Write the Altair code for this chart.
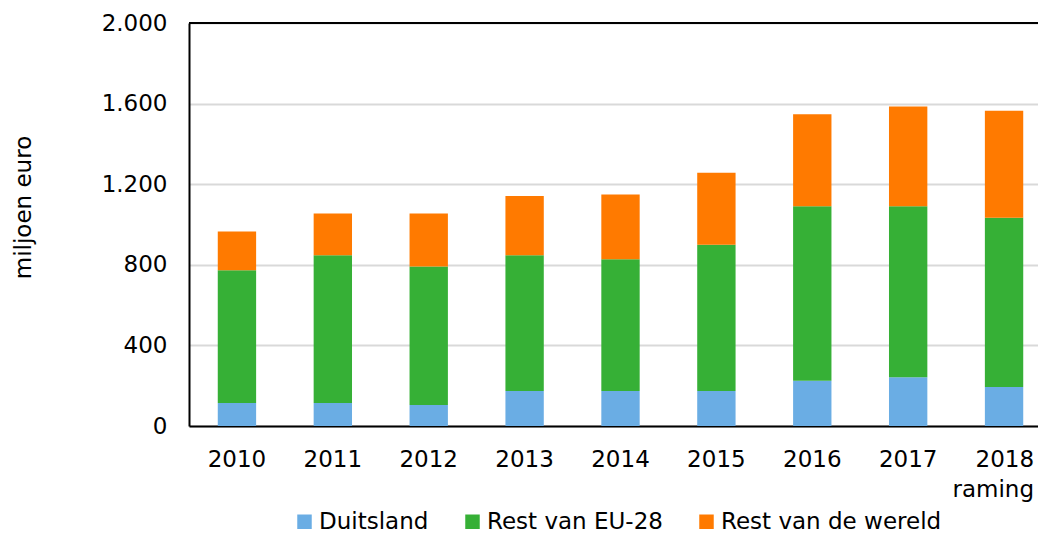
import altair as alt
import pandas as pd

years = ["2010", "2011", "2012", "2013", "2014", "2015", "2016", "2017", "2018"]
duitsland = [114, 114, 104, 174, 174, 174, 224, 242, 194]
rest_eu = [659, 733, 687, 673, 654, 725, 867, 849, 839]
rest_wereld = [192, 208, 264, 294, 321, 358, 456, 494, 532]
series = ["Duitsland", "Rest van EU-28", "Rest van de wereld"]
colors = ["#6AADE4", "#36B036", "#FF7A00"]
y_ticks = [0, 400, 800, 1200, 1600, 2000]

rows = []
for i, y in enumerate(years):
    for k, (s, vals) in enumerate(zip(series, [duitsland, rest_eu, rest_wereld])):
        rows.append({"jaar": y, "reeks": s, "waarde": vals[i], "volgorde": k})
df = pd.DataFrame(rows)

FONT = "DejaVu Sans"
FS = 23
last = years[-1]

bars = alt.Chart(df).mark_bar().encode(
    x=alt.X("jaar:N", sort=years,
            scale=alt.Scale(paddingInner=0.6, paddingOuter=0.3),
            axis=alt.Axis(title=None, labelAngle=0, ticks=False, domainColor="black",
                          domainWidth=2, labelPadding=22, labelLineHeight=30,
                          labelAlign={"condition": {"test": f"datum.value == '{last}'", "value": "right"},
                                      "value": "center"},
                          labelOffset={"condition": {"test": f"datum.value == '{last}'", "value": 30},
                                       "value": 0},
                          labelExpr=f"datum.value == '{last}' ? ['{last}', 'raming'] : datum.value")),
    y=alt.Y("waarde:Q", stack="zero",
            scale=alt.Scale(domain=[0, 2000], nice=False),
            axis=alt.Axis(title="miljoen euro", values=y_ticks, ticks=False,
                          domainColor="black", domainWidth=2, gridColor="#D9D9D9",
                          gridWidth=2, labelPadding=22, titlePadding=66, titleY=184,
                          titleFontWeight="normal",
                          labelExpr="replace(format(datum.value, ','), ',', '.')")),
    color=alt.Color("reeks:N", sort=series,
                    scale=alt.Scale(domain=series, range=colors),
                    legend=alt.Legend(title=None, orient="none", legendX=104, legendY=487,
                                      direction="horizontal", symbolType="square",
                                      symbolSize=210, symbolStrokeWidth=0, columnPadding=32,
                                      labelOffset=3, labelFontSize=FS, labelFont=FONT,
                                      labelColor="black", labelLimit=0)),
    order=alt.Order("volgorde:Q", sort="ascending"),
)

top_border = alt.Chart(pd.DataFrame({"top": [y_ticks[-1]]})).mark_rule(
    color="black", strokeWidth=2
).encode(y=alt.Y("top:Q"))

chart = alt.layer(bars, top_border).properties(
    width=863, height=403,
    autosize=alt.AutoSizeParams(type="none"),
    padding={"left": 181, "top": 15, "right": -14, "bottom": 110},
).configure_view(stroke=None).configure_axis(
    labelFont=FONT, labelFontSize=FS, labelColor="black",
    titleFont=FONT, titleFontSize=FS, titleColor="black",
)

chart.save("out.html", embed_options={"renderer": "svg", "actions": False})
